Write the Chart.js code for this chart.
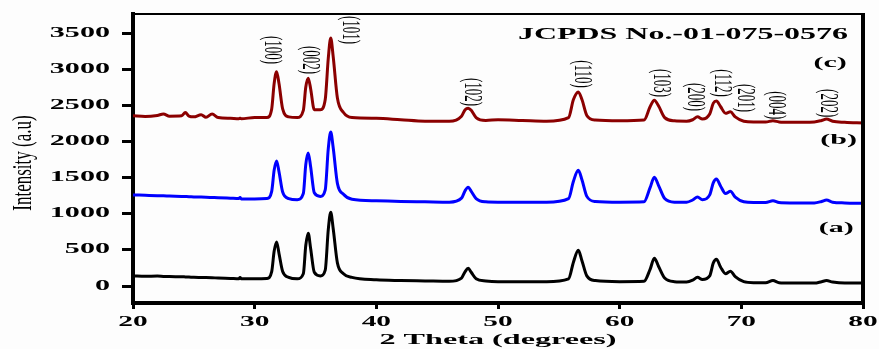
<!DOCTYPE html>
<html lang="en">

<head>
    <meta charset="UTF-8">
    <title>XRD Pattern</title>
    <script src="https://cdn.jsdelivr.net/npm/chart.js@4.4.0/dist/chart.umd.min.js"></script>
    <style>
        body { margin: 0; background: #fdfdfd; }
        #xrdChart { display: block; }
    </style>
</head>

<body>
    <canvas id="xrdChart" width="879" height="349"></canvas>
    <script>
        // 2 theta (degrees) sample points shared by the three patterns
        const twoTheta = [20, 21, 22, 22.5, 23, 24, 24.3, 24.6, 25, 25.6, 26, 26.5, 27, 28, 28.7, 28.8, 28.9, 30, 31, 31.4,
            31.6, 31.8, 32.0, 32.3, 32.8, 33.5, 34.0, 34.2, 34.4, 34.6, 34.9, 35.4, 35.8, 36.05, 36.25, 36.45, 36.8, 37.3, 38, 40,
            42, 44, 46, 47.0, 47.3, 47.55, 47.8, 48.2, 49, 50, 52, 54, 55.8, 56.2, 56.6, 56.9, 57.3, 58, 60, 62,
            62.5, 62.85, 63.2, 63.7, 64.5, 65.5, 66.0, 66.4, 66.8, 67.4, 67.7, 67.95, 68.3, 68.7, 69.1, 69.5, 70.2, 71, 72, 72.6,
            73.1, 74, 76, 76.6, 77, 77.5, 78.5, 80];

        // intensities (a.u)
        const sampleA = [140, 135, 138, 133, 130, 128, 126, 124, 120, 119, 118, 115, 110, 105, 100, 118, 100, 100, 105, 200,
            480, 610, 450, 200, 120, 100, 170, 560, 730, 520, 190, 140, 220, 780, 1020, 800, 320, 170, 120, 85,
            75, 70, 65, 110, 200, 245, 190, 100, 70, 60, 60, 60, 100, 330, 495, 350, 140, 75, 60, 65,
            230, 385, 270, 110, 60, 55, 80, 120, 90, 140, 320, 370, 260, 170, 205, 130, 60, 45, 45, 75,
            45, 40, 40, 60, 75, 55, 40, 40];
        const sampleB = [1260, 1255, 1250, 1248, 1245, 1240, 1238, 1236, 1232, 1230, 1228, 1225, 1222, 1215, 1210, 1225, 1205, 1205, 1210, 1310,
            1600, 1730, 1580, 1300, 1210, 1195, 1280, 1680, 1840, 1650, 1290, 1240, 1330, 1900, 2130, 1920, 1420, 1270, 1200, 1180,
            1170, 1165, 1160, 1215, 1320, 1365, 1310, 1210, 1165, 1160, 1160, 1160, 1210, 1450, 1600, 1470, 1240, 1170, 1160, 1165,
            1360, 1505, 1390, 1210, 1160, 1160, 1190, 1230, 1195, 1260, 1430, 1480, 1380, 1280, 1310, 1230, 1165, 1155, 1155, 1180,
            1155, 1150, 1150, 1170, 1190, 1160, 1150, 1145];
        const sampleC = [2355, 2345, 2360, 2380, 2350, 2355, 2400, 2350, 2340, 2370, 2335, 2380, 2330, 2320, 2315, 2320, 2315, 2330, 2330, 2450,
            2800, 2965, 2800, 2450, 2340, 2330, 2430, 2750, 2875, 2730, 2440, 2440, 2580, 3150, 3430, 3180, 2600, 2400, 2330, 2320,
            2300, 2280, 2280, 2350, 2440, 2460, 2430, 2330, 2290, 2300, 2290, 2280, 2330, 2580, 2685, 2580, 2360, 2295, 2285, 2295,
            2480, 2570, 2490, 2330, 2285, 2280, 2300, 2340, 2310, 2380, 2530, 2560, 2480, 2390, 2410, 2340, 2280, 2270, 2270, 2285,
            2270, 2265, 2270, 2290, 2310, 2280, 2265, 2255];

        // tick labels
        const xTicks = [20, 30, 40, 50, 60, 70, 80];
        const yTicks = [0, 500, 1000, 1500, 2000, 2500, 3000, 3500];

        // hkl planes and where their labels sit (degrees / intensity)
        const hklNames = ['(100)', '(002)', '(101)', '(102)', '(110)', '(103)', '(200)', '(112)', '(201)', '(004)', '(202)'];
        const hklTheta = [31.35, 34.47, 37.8, 47.83, 56.9, 63.36, 66.15, 68.36, 70.25, 72.79, 77.05];
        const hklLevel = [3265, 3126, 3541, 2684, 2933, 2808, 2614, 2808, 2600, 2500, 2530];

        // sample tags
        const tagNames = ['(a)', '(b)', '(c)'];
        const tagTheta = [77.8, 78.0, 77.3];
        const tagLevel = [802, 2020, 3085];

        const FONT = '"Liberation Serif", "Times New Roman", serif';

        // draws text squeezed/stretched horizontally like the original figure
        function wideText(ctx, str, x, y, font, sx, align) {
            ctx.save();
            ctx.font = font;
            ctx.translate(x, y);
            ctx.scale(sx, 1);
            ctx.textAlign = align || 'center';
            ctx.textBaseline = 'middle';
            ctx.fillText(str, 0, 0);
            ctx.restore();
        }

        function fitText(ctx, str, cx, cy, font, width) {
            ctx.save();
            ctx.font = font;
            const w = ctx.measureText(str).width;
            ctx.restore();
            wideText(ctx, str, cx, cy, font, width / w, 'center');
        }

        function rotText(ctx, str, x, y, font, angle, thick) {
            ctx.save();
            ctx.font = font;
            ctx.translate(x, y);
            ctx.rotate(angle);
            ctx.scale(1, thick);
            ctx.textAlign = 'center';
            ctx.textBaseline = 'middle';
            ctx.fillText(str, 0, 0);
            ctx.restore();
        }

        const decorPlugin = {
            id: 'decor',
            beforeDraw(chart) {
                const ctx = chart.ctx;
                ctx.save();
                ctx.fillStyle = '#fdfdfd';
                ctx.fillRect(0, 0, chart.width, chart.height);
                ctx.restore();
            },
            afterDraw(chart) {
                const ctx = chart.ctx;
                const xs = chart.scales.x;
                const ys = chart.scales.y;
                const area = chart.chartArea;
                ctx.save();
                ctx.fillStyle = '#000';

                // top and right frame
                ctx.strokeStyle = '#000';
                ctx.lineWidth = 2;
                ctx.beginPath();
                ctx.moveTo(area.left, area.top);
                ctx.lineTo(area.right, area.top);
                ctx.stroke();
                ctx.lineWidth = 4;
                ctx.beginPath();
                ctx.moveTo(area.right, area.top - 1);
                ctx.lineTo(area.right, area.bottom + 2);
                ctx.stroke();

                // tick labels
                const tickFont = 'bold 14px ' + FONT;
                yTicks.forEach(v => wideText(ctx, String(v), 110, ys.getPixelForValue(v), tickFont, 2.15, 'right'));
                xTicks.forEach(v => wideText(ctx, String(v), xs.getPixelForValue(v), 322, tickFont, 2.1, 'center'));

                // axis titles
                fitText(ctx, '2 Theta (degrees)', 498, 340, 'bold 15px ' + FONT, 237);
                rotText(ctx, 'Intensity (a.u)', 24, 163, '17px ' + FONT, -Math.PI / 2, 1.6);

                // card number
                fitText(ctx, 'JCPDS No.-01-075-0576', 683, 35, 'bold 16px ' + FONT, 330);

                // hkl labels
                hklNames.forEach((name, i) => {
                    rotText(ctx, name, xs.getPixelForValue(hklTheta[i]), ys.getPixelForValue(hklLevel[i]),
                        '13px ' + FONT, Math.PI / 2, 1.9);
                });

                // sample tags
                tagNames.forEach((name, i) => {
                    wideText(ctx, name, xs.getPixelForValue(tagTheta[i]), ys.getPixelForValue(tagLevel[i]),
                        'bold 15px ' + FONT, 2.0, 'center');
                });
                ctx.restore();
            }
        };

        const toPoints = arr => arr.map((v, i) => ({ x: twoTheta[i], y: v }));
        const lineStyle = {
            borderWidth: 3,
            pointRadius: 0,
            cubicInterpolationMode: 'monotone',
            fill: false
        };

        const ctx = document.getElementById('xrdChart').getContext('2d');
        const chart = new Chart(ctx, {
            type: 'line',
            data: {
                datasets: [
                    Object.assign({ label: '(a)', data: toPoints(sampleA), borderColor: '#000000' }, lineStyle),
                    Object.assign({ label: '(b)', data: toPoints(sampleB), borderColor: '#0000ff' }, lineStyle),
                    Object.assign({ label: '(c)', data: toPoints(sampleC), borderColor: '#8b0000' }, lineStyle)
                ]
            },
            options: {
                responsive: false,
                animation: false,
                layout: { padding: { top: 14, right: 16, left: 0, bottom: 0 } },
                plugins: {
                    legend: { display: false },
                    tooltip: { enabled: false }
                },
                scales: {
                    x: {
                        type: 'linear',
                        min: 20,
                        max: 80,
                        afterBuildTicks: scale => { scale.ticks = xTicks.map(v => ({ value: v })); },
                        afterFit: scale => { scale.height = 46; },
                        ticks: { display: false },
                        border: { display: true, color: '#000', width: 4 },
                        grid: { drawOnChartArea: false, drawTicks: true, tickLength: 6, tickWidth: 3, tickColor: '#000' }
                    },
                    y: {
                        type: 'linear',
                        min: -235,
                        max: 3763,
                        afterBuildTicks: scale => { scale.ticks = yTicks.map(v => ({ value: v })); },
                        afterFit: scale => { scale.width = 133; },
                        ticks: { display: false },
                        border: { display: true, color: '#000', width: 4 },
                        grid: { drawOnChartArea: false, drawTicks: true, tickLength: 11, tickWidth: 3, tickColor: '#000' }
                    }
                }
            },
            plugins: [decorPlugin]
        });
    </script>
</body>

</html>
